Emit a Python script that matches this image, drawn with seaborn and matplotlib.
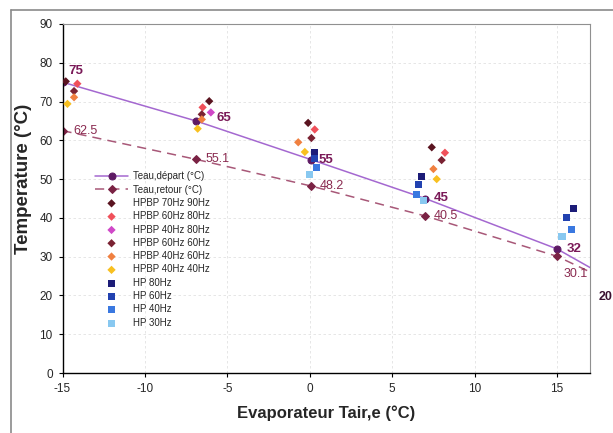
import matplotlib
matplotlib.use("Agg")
import matplotlib.pyplot as plt
from matplotlib.lines import Line2D
import seaborn as sns
import pandas as pd

# ---------------- data ----------------
depart_x = [-15, -6.9, 0.1, 7.0, 15.0, 20.0]
depart_y = [75, 65, 55, 45, 32, 20]
depart_labels = ["75", "65", "55", "45", "32", ""]

retour_x = [-15, -6.9, 0.1, 7.0, 15.0, 20.0]
retour_y = [62.5, 55.1, 48.2, 40.5, 30.1, 20]
retour_labels = ["62.5", "55.1", "48.2", "40.5", "30.1", ""]

hpbp_70_90_x = [-14.8, -6.1, -0.1, 7.4]
hpbp_70_90_y = [75.2, 70.1, 64.5, 58.2]
hpbp_60_80_x = [-14.1, -6.5, 0.3, 8.2]
hpbp_60_80_y = [74.6, 68.5, 62.8, 56.8]
hpbp_40_80_x = [-6.0]
hpbp_40_80_y = [67.2]
hpbp_60_60_x = [-14.3, -6.55, 0.1, 8.0]
hpbp_60_60_y = [72.7, 66.7, 60.6, 54.9]
hpbp_40_60_x = [-14.3, -6.55, -0.7, 7.5]
hpbp_40_60_y = [71.1, 65.4, 59.5, 52.6]
hpbp_40_40_x = [-14.7, -6.8, -0.3, 7.7]
hpbp_40_40_y = [69.4, 63.0, 57.0, 50.0]
hp_80_x = [0.3, 6.8, 16.0]
hp_80_y = [56.9, 50.6, 42.4]
hp_60_x = [0.3, 6.6, 15.6]
hp_60_y = [55.2, 48.5, 40.0]
hp_40_x = [0.4, 6.5, 15.9]
hp_40_y = [53.0, 46.1, 37.1]
hp_30_x = [0.0, 6.9, 15.3]
hp_30_y = [51.3, 44.4, 35.1]

series_names = ["HPBP 70Hz 90Hz", "HPBP 60Hz 80Hz", "HPBP 40Hz 80Hz",
                "HPBP 60Hz 60Hz", "HPBP 40Hz 60Hz", "HPBP 40Hz 40Hz",
                "HP 80Hz", "HP 60Hz", "HP 40Hz", "HP 30Hz"]
series_x = [hpbp_70_90_x, hpbp_60_80_x, hpbp_40_80_x, hpbp_60_60_x, hpbp_40_60_x,
            hpbp_40_40_x, hp_80_x, hp_60_x, hp_40_x, hp_30_x]
series_y = [hpbp_70_90_y, hpbp_60_80_y, hpbp_40_80_y, hpbp_60_60_y, hpbp_40_60_y,
            hpbp_40_40_y, hp_80_y, hp_60_y, hp_40_y, hp_30_y]
series_colors = ["#5a1420", "#f0505a", "#d048c8", "#7a2232", "#f08040",
                 "#f8c020", "#1c1c78", "#2242b0", "#3a78e0", "#88c8f0"]
series_markers = ["D"] * 6 + ["s"] * 4

x_ticks = [-15, -10, -5, 0, 5, 10, 15]
y_ticks = [0, 10, 20, 30, 40, 50, 60, 70, 80, 90]

# ---------------- style ----------------
sns.set_theme(style="white")
plt.rcParams["font.family"] = ["Liberation Sans", "DejaVu Sans"]
plt.rcParams["axes.unicode_minus"] = False

fig = plt.figure(figsize=(6.13, 4.33), dpi=100)
ax = fig.add_axes([62.5 / 613, 1 - 373 / 433, (590 - 62.5) / 613, (373 - 24) / 433])

ax.set_xlim(-15, 17)
ax.set_ylim(0, 90)
ax.set_xticks(x_ticks)
ax.set_yticks(y_ticks)
ax.grid(True, color="#e2e2e2", linestyle=(0, (3, 3)), linewidth=0.6)
ax.set_axisbelow(True)

dep_df = pd.DataFrame({"x": depart_x, "y": depart_y})
ret_df = pd.DataFrame({"x": retour_x, "y": retour_y})

sns.lineplot(data=dep_df, x="x", y="y", ax=ax, color="#a468d0", linewidth=1.1,
             marker="o", markersize=5, markerfacecolor="#5e1a64",
             markeredgecolor="#5e1a64", sort=False, label="Teau,départ (°C)")
sns.lineplot(data=ret_df, x="x", y="y", ax=ax, color="#a85878", linewidth=1.1,
             marker="D", markersize=4, markerfacecolor="#7a2244",
             markeredgecolor="#7a2244", sort=False, dashes=False,
             label="Teau,retour (°C)")
ax.lines[1].set_linestyle((0, (6, 4)))

for name, xs, ys, c, m in zip(series_names, series_x, series_y, series_colors, series_markers):
    df = pd.DataFrame({"x": xs, "y": ys})
    sns.scatterplot(data=df, x="x", y="y", ax=ax, color=c, marker=m,
                    s=18 if m == "D" else 26, edgecolor="none", label=name, zorder=3)

# data labels
dep_off = [(4, 8), (15, 2), (5, 0), (6, 0), (7, 0), (0, 0)]
for xv, yv, t, (dx, dy) in zip(depart_x, depart_y, depart_labels, dep_off):
    if t:
        ax.annotate(t, (xv, yv), xytext=(dx, dy), textcoords="offset points",
                    ha="left", va="center", fontsize=9.5, fontweight="bold",
                    color="#7a1a58", zorder=5)
ret_off = [(8, 0), (7, 0), (6, 0), (6, 0), (5, -13), (0, 0)]
for xv, yv, t, (dx, dy) in zip(retour_x, retour_y, retour_labels, ret_off):
    if t:
        ax.annotate(t, (xv, yv), xytext=(dx, dy), textcoords="offset points",
                    ha="left", va="center", fontsize=9, color="#8a2a50", zorder=5)
ax.text(17.5, 19.6, "20", ha="left", va="center", fontsize=9,
        fontweight="bold", color="#3a1030", clip_on=False)

# axes cosmetics
for s in ["left", "bottom"]:
    ax.spines[s].set_color("black")
    ax.spines[s].set_linewidth(1.0)
for s in ["top", "right"]:
    ax.spines[s].set_color("#909090")
    ax.spines[s].set_linewidth(0.8)
ax.tick_params(axis="both", which="major", direction="out", length=3, width=0.8,
               color="black", labelsize=8.5, pad=4, bottom=True, left=True)
ax.set_xlabel("Evaporateur Tair,e (°C)", fontsize=12, fontweight="bold", labelpad=8)
ax.set_ylabel("Temperature (°C)", fontsize=13.5, fontweight="bold")
ax.yaxis.set_label_coords(-0.058, 0.556)

leg = ax.legend(loc="upper left", bbox_to_anchor=(0.0616, 0.578), frameon=False,
                fontsize=7, handlelength=3.4, handletextpad=0.5, labelspacing=0.34,
                borderpad=0, borderaxespad=0)

# outer chart border (left and top visible)
fig.add_artist(Line2D([11 / 613, 11 / 613], [0, 1 - 10 / 433], color="#8a8a8a", lw=1.2))
fig.add_artist(Line2D([11 / 613, 1], [1 - 10 / 433, 1 - 10 / 433], color="#8a8a8a", lw=1.2))

fig.savefig("out.png", dpi=100)
